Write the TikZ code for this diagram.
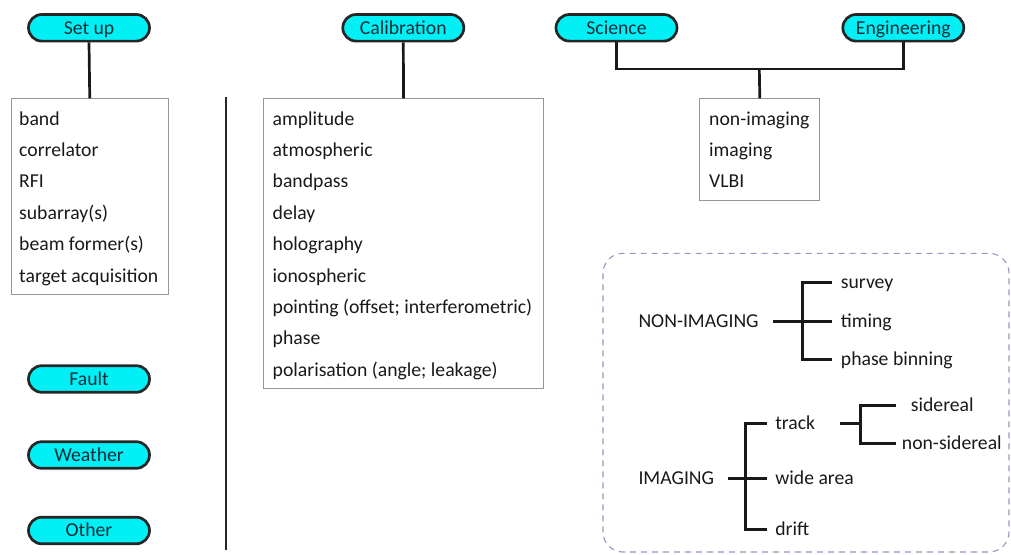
\documentclass[tikz,border=0pt]{standalone}
\usepackage{fontspec}
\setmainfont{Carlito}
\definecolor{pillcyan}{RGB}{0,240,245}
\definecolor{pilltext}{RGB}{20,45,55}
\definecolor{boxgray}{RGB}{150,150,150}
\definecolor{dashblue}{RGB}{150,150,190}
\begin{document}
\begin{tikzpicture}[x=1pt,y=-1pt,
  font=\fontsize{19.7}{23}\selectfont,
  pill/.style={draw=black!85, line width=2.7pt, fill=pillcyan,
    rounded corners=13.3pt, minimum width=121pt, minimum height=26.6pt,
    inner sep=0pt, text=pilltext, text height=16.7pt, text depth=4pt},
  listbox/.style={draw=boxgray, line width=1pt, anchor=north west, inner sep=0pt},
  listitem/.style={anchor=base west, inner sep=0pt, text=black!90},
  treelabel/.style={anchor=west, inner sep=0pt, text height=15pt, text depth=3.5pt, text=black!90},
  leaf/.style={treelabel, inner xsep=8.4pt},
  link/.style={line width=2.7pt, draw=black!90},
]
\useasboundingbox (0,0) rectangle (1011,554);

% ---- category pills ----
\node[pill] (setup)   at (89,27.8)    {Set up};
\node[pill] (calib)   at (403.3,27.8) {Calibration};
\node[pill] (science) at (616.5,27.8) {Science};
\node[pill] (engin)   at (903.3,27.8) {Engineering};
\node[pill] (fault)   at (89,379)     {Fault};
\node[pill] (weather) at (89,455)     {Weather};
\node[pill] (other)   at (89,530.5)   {Other};

% ---- divider ----
\coordinate (divtop) at (226,97);
\coordinate (divbot) at (226,550);
\draw[line width=2.2pt, black!85] (divtop) -- (divbot);

% ---- set-up list ----
\node[listbox, minimum width=156.5pt, minimum height=195.5pt] (setupbox) at (11,98.3) {};
\foreach \t [count=\i from 0] in {band,correlator,RFI,subarray(s),beam former(s),target acquisition}
  \node[listitem] (su\i) at (19,125+31.4*\i) {\t};
\draw[link] (setup.south) -- (setupbox.north);

% ---- calibration list ----
\node[listbox, minimum width=280.5pt, minimum height=290pt] (calbox) at (262.8,98.3) {};
\foreach \t [count=\i from 0] in {amplitude,atmospheric,bandpass,delay,holography,ionospheric,
    pointing (offset; interferometric),phase,polarisation (angle; leakage)}
  \node[listitem] (ca\i) at (272.5,125+31.4*\i) {\t};
\draw[link] (calib.south) -- (calbox.north);

% ---- science / engineering list ----
\node[listbox, minimum width=120pt, minimum height=102pt] (scibox) at (699.3,98.3) {};
\foreach \t [count=\i from 0] in {non-imaging,imaging,VLBI}
  \node[listitem] (sc\i) at (709,125+31.4*\i) {\t};
\coordinate (sejoin) at (759.3,69);
\draw[link] (science.south) |- (sejoin) -| (engin.south);
\draw[link] (sejoin) -- (scibox.north);

% ---- observing-mode panel ----
\draw[dashblue, line width=1.1pt, dash pattern=on 6pt off 5pt, rounded corners=20pt]
  (603,253.3) rectangle (1009,552);

\node[treelabel] (nonimg)  at (638.3,321.7) {NON-IMAGING};
\node[leaf] (survey)  at (832.3,282.7) {survey};
\node[leaf] (timing)  at (832.3,321.7) {timing};
\node[leaf] (binning) at (832.3,359.3) {phase binning};
\coordinate (nijoin) at (802.3,321.7);
\draw[link] (survey.west) -| (nijoin) |- (binning.west);
\draw[link, shorten <=14.4pt] (nonimg.east) -- (timing.west);

\node[treelabel] (imaging) at (638.3,478.3) {IMAGING};
\node[leaf] (track)    at (766.7,423.3) {track};
\node[leaf] (widearea) at (766.7,478.3) {wide area};
\node[leaf] (drift)    at (766.7,529.3) {drift};
\coordinate (imjoin) at (745.7,478.3);
\draw[link] (track.west) -| (imjoin) |- (drift.west);
\draw[link, shorten <=14pt] (imaging.east) -- (widearea.west);

\node[leaf, inner xsep=14.7pt] (sidereal)    at (896,405.7) {sidereal};
\node[leaf, inner xsep=5.7pt]  (nonsidereal) at (896,443.3) {non-sidereal};
\coordinate (trjoin) at (860.7,423.3);
\draw[link] (sidereal.west) -| (trjoin) |- (nonsidereal.west);
\draw[link, shorten <=16.6pt] (track.east) -- (trjoin);
\end{tikzpicture}
\end{document}
